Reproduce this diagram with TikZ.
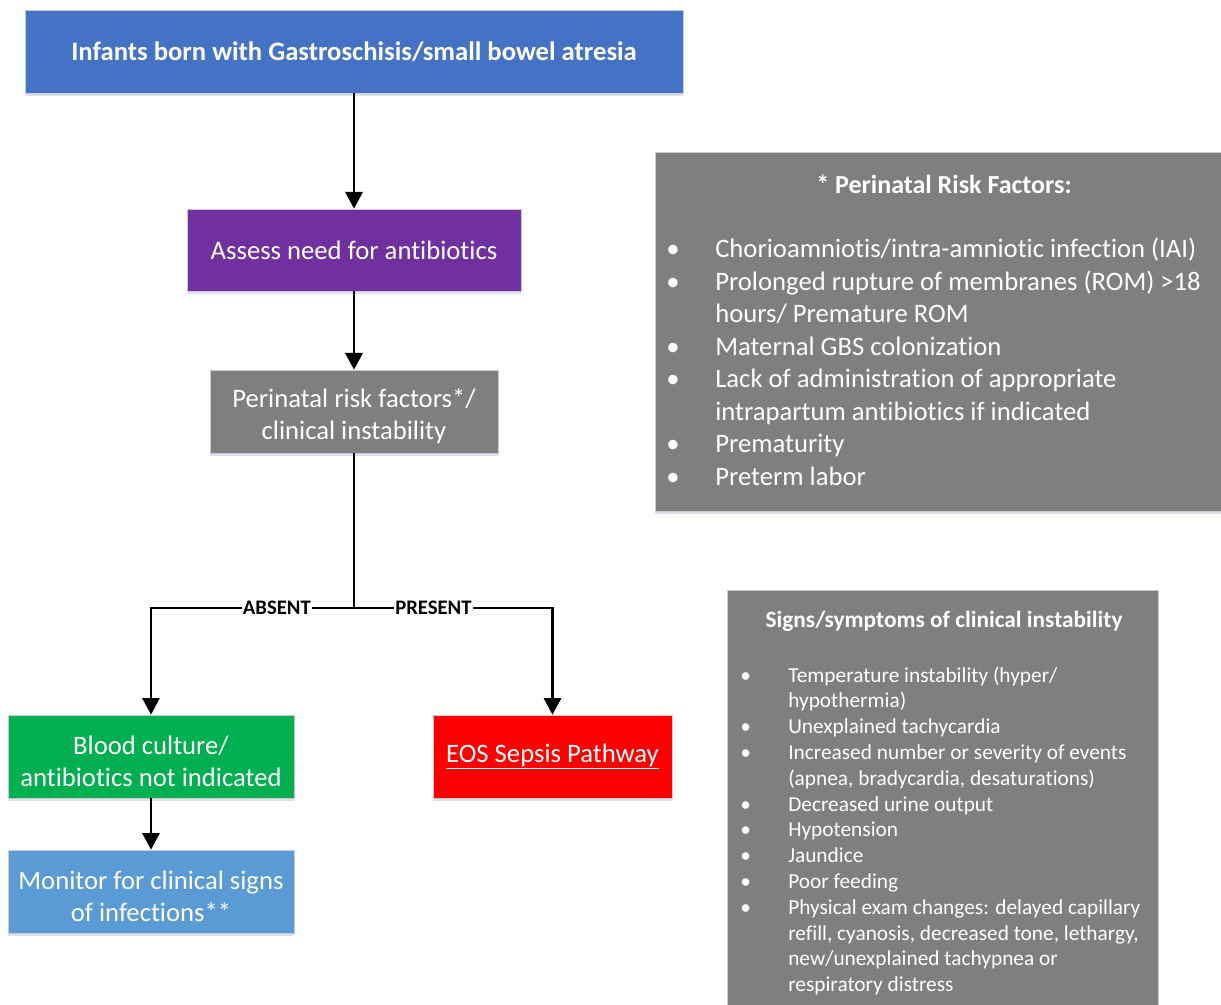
\documentclass[tikz,border=0pt]{standalone}
\usepackage{fontspec}
\setmainfont{Carlito}[Ligatures={NoCommon}]
\usetikzlibrary{arrows.meta,shadows}
\definecolor{cblue}{HTML}{4472C4}
\definecolor{cpurple}{HTML}{7030A0}
\definecolor{cgray}{HTML}{7F7F7F}
\definecolor{cgreen}{HTML}{00B050}
\definecolor{cred}{HTML}{FF0000}
\definecolor{clblue}{HTML}{5B9BD5}
\begin{document}
\begin{tikzpicture}[x=0.75pt,y=-0.75pt,
 box/.style={rectangle, draw=black!20, line width=0.5pt, text=white, align=center, inner sep=0pt,
   drop shadow={shadow xshift=0pt,shadow yshift=-2.5pt,opacity=0.2,fill=blue!30!gray}},
 arr/.style={line width=1.6pt, -{Triangle[width=13pt,length=12.5pt]}},
 lbl/.style={fill=white, inner sep=1pt, font=\fontsize{15.5}{18}\selectfont\bfseries},
 bigtxt/.style={font=\fontsize{20}{24}\selectfont},
 rline/.style={anchor=base west, inner sep=0pt, text=white, font=\fontsize{20}{24}\selectfont},
 sline/.style={anchor=base west, inner sep=0pt, text=white, font=\fontsize{16}{19}\selectfont}]
\useasboundingbox (0,0) rectangle (1221,1005);

% flow boxes
\node[box, fill=cblue, minimum width=493.5pt, minimum height=62.25pt, font=\fontsize{20}{24}\selectfont\bfseries]
  (top) at (354,51.5) {Infants born with Gastroschisis/small bowel atresia};
\node[box, fill=cpurple, minimum width=250.5pt, minimum height=61.5pt, bigtxt]
  (assess) at (354,250) {Assess need for antibiotics};
\node[box, fill=cgray, minimum width=216pt, minimum height=62.25pt, bigtxt]
  (peri) at (354,411.5) {\rule{0pt}{20.5pt}Perinatal risk factors*/\\clinical instability};
\node[box, fill=cgreen, minimum width=214.5pt, minimum height=62.25pt, bigtxt]
  (green) at (151,756.5) {\rule{0pt}{20.5pt}Blood culture/\\antibiotics not indicated};
\node[box, fill=cred, minimum width=179.25pt, minimum height=62.25pt, bigtxt]
  (eos) at (552.5,756.5) {\underline{EOS Sepsis Pathway}};
\node[box, fill=clblue, minimum width=214.5pt, minimum height=62.25pt, bigtxt]
  (mon) at (151,891.5) {\rule{0pt}{20.5pt}Monitor for clinical signs\\of infections**};

% connectors
\draw[arr] (top) -- (assess);
\draw[arr] (assess) -- (peri);
\coordinate (split) at (354,608);
\draw[line width=1.6pt] (peri) -- (split);
\draw[arr] (split) -| node[lbl, pos=0.19] (absent) {ABSENT} (green.north);
\draw[arr] (split) -| node[lbl, pos=0.2] (present) {PRESENT} (eos.north);
\draw[arr] (green) -- (mon);

% risk factor box
\node[box, fill=cgray, minimum width=424.5pt, minimum height=269.25pt] (risk) at (938,331.5) {};
\node[anchor=base, inner sep=0pt, text=white, font=\fontsize{19.5}{24}\selectfont\bfseries] (rtitle) at (944,194) {* Perinatal Risk Factors:};
\node[rline] (rb1) at (666,258) {\textbullet};
\node[rline] (r1) at (715,258) {Chorioamniotis/intra-amniotic infection (IAI)};
\node[rline] (rb2) at (666,290.5) {\textbullet};
\node[rline] (r2) at (715,290.5) {Prolonged rupture of membranes (ROM) >18};
\node[rline] (r3) at (715,323) {hours/ Premature ROM};
\node[rline] (rb4) at (666,355.5) {\textbullet};
\node[rline] (r4) at (715,355.5) {Maternal GBS colonization};
\node[rline] (rb5) at (666,388) {\textbullet};
\node[rline] (r5) at (715,388) {Lack of administration of appropriate};
\node[rline] (r6) at (715,420.5) {intrapartum antibiotics if indicated};
\node[rline] (rb7) at (666,453) {\textbullet};
\node[rline] (r7) at (715,453) {Prematurity};
\node[rline] (rb8) at (666,485.5) {\textbullet};
\node[rline] (r8) at (715,485.5) {Preterm labor};

% signs box
\node[box, fill=cgray, minimum width=323.25pt, minimum height=311.25pt] (signs) at (942.5,797.5) {};
\node[anchor=base, inner sep=0pt, text=white, font=\fontsize{17.5}{21}\selectfont\bfseries] (stitle) at (944,627) {Signs/symptoms of clinical instability};
\node[sline] (sb1) at (740,682) {\textbullet};
\node[sline] (s1) at (788,682) {Temperature instability (hyper/};
\node[sline] (s2) at (788,707.8) {hypothermia)};
\node[sline] (sb3) at (740,733.6) {\textbullet};
\node[sline] (s3) at (788,733.6) {Unexplained tachycardia};
\node[sline] (sb4) at (740,759.4) {\textbullet};
\node[sline] (s4) at (788,759.4) {Increased number or severity of events};
\node[sline] (s5) at (788,785.2) {(apnea, bradycardia, desaturations)};
\node[sline] (sb6) at (740,811) {\textbullet};
\node[sline] (s6) at (788,811) {Decreased urine output};
\node[sline] (sb7) at (740,836.8) {\textbullet};
\node[sline] (s7) at (788,836.8) {Hypotension};
\node[sline] (sb8) at (740,862.6) {\textbullet};
\node[sline] (s8) at (788,862.6) {Jaundice};
\node[sline] (sb9) at (740,888.4) {\textbullet};
\node[sline] (s9) at (788,888.4) {Poor feeding};
\node[sline] (sb10) at (740,914.2) {\textbullet};
\node[sline] (s10) at (788,914.2) {Physical exam changes: delayed capillary};
\node[sline] (s11) at (788,940) {refill, cyanosis, decreased tone, lethargy,};
\node[sline] (s12) at (788,965.8) {new/unexplained tachypnea or};
\node[sline] (s13) at (788,991.6) {respiratory distress};
\end{tikzpicture}
\end{document}
